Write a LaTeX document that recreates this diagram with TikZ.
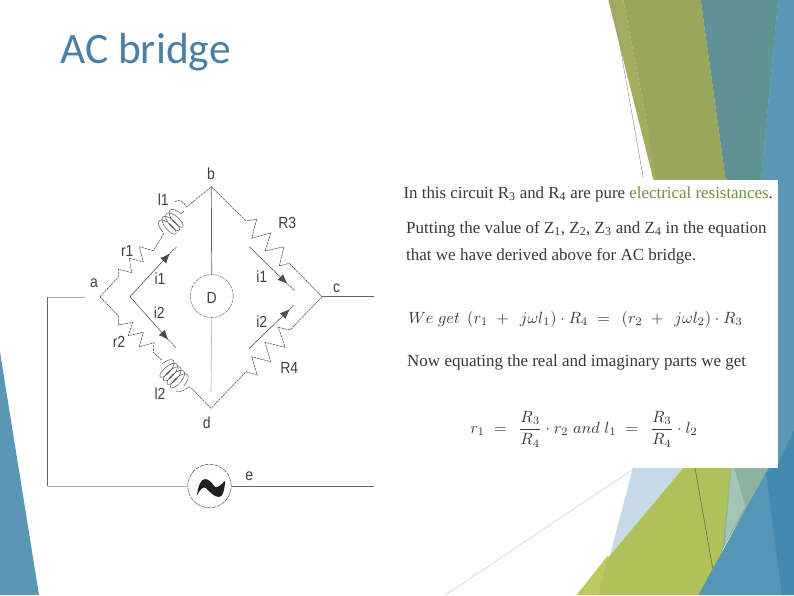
\documentclass[tikz,border=0pt]{standalone}
\usepackage{fontspec}
\setmainfont{Liberation Serif}
\newfontfamily\labelfont{Liberation Sans}
\newfontfamily\titlefont{Carlito}
\usetikzlibrary{arrows.meta,decorations.pathmorphing}
\definecolor{slideblue}{HTML}{5A96B6}
\definecolor{deepblue}{HTML}{438AB0}
\definecolor{midblue}{HTML}{5595B5}
\definecolor{paleblue}{HTML}{C5DBE8}
\definecolor{olive}{HTML}{9AA65B}
\definecolor{lightolive}{HTML}{A6AC5F}
\definecolor{teal1}{HTML}{5F9195}
\definecolor{teal2}{HTML}{5F9392}
\definecolor{leaf}{HTML}{B0C05A}
\definecolor{lightleaf}{HTML}{BDC860}
\definecolor{sage}{HTML}{8DB3A0}
\definecolor{palesage}{HTML}{A3C6B8}
\definecolor{titleblue}{HTML}{4A80A6}
\definecolor{bodygrey}{HTML}{383838}
\definecolor{linkgreen}{HTML}{6F8F3F}
\tikzset{
  wire/.style={line width=.55pt,black!70,dash pattern=on 2.5pt off .8pt},
  lead/.style={line width=.7pt,black!60},
  faint/.style={line width=.6pt,black!30},
  coilwire/.style={line width=.5pt,black!65,decorate,
    decoration={coil,aspect=.4,segment length=5pt,amplitude=10.5pt}},
  current/.style={line width=.55pt,black!70,-{Latex[length=10pt,width=8pt]}},
  lbl/.style={font=\labelfont\fontsize{14}{16}\selectfont,text=black!75,inner sep=0pt,yscale=1.15},
  meter/.style={circle,draw=black!60,line width=.5pt,dash pattern=on 3pt off 1pt,minimum size=43pt,inner sep=0pt},
  source/.style={circle,draw=black!60,line width=.6pt,dash pattern=on 4pt off 1pt,minimum size=43.5pt,inner sep=0pt},
  bodysmall/.style={anchor=base west,inner sep=0pt,text=bodygrey,font=\fontsize{16.9}{20}\selectfont},
  body/.style={anchor=base west,inner sep=0pt,text=bodygrey,font=\fontsize{17}{20}\selectfont},
  formula/.style={anchor=base west,inner sep=0pt,text=bodygrey,scale=1.63}
}
\begin{document}
\begin{tikzpicture}[x=1pt,y=-1pt]
  \useasboundingbox (0,0) rectangle (794,595);
  \fill[white] (0,0) rectangle (794,595);
  % slide background
  \fill[slideblue] (0,352) -- (39,595) -- (0,595) -- cycle;
  \fill[slideblue] (778,0) -- (794,0) -- (794,470) -- (740,470) -- (760,190) -- cycle;
  \fill[lightolive] (608.3,0) -- (623.3,0) -- (660,190) -- (656,190) -- cycle;
  \fill[olive] (623.3,0) -- (700.7,0) -- (727,190) -- (658,190) -- (647,123) -- cycle;
  \fill[teal1] (700.7,0) -- (778,0) -- (760,190) -- (727,190) -- cycle;
  \fill[teal2] (773,0) -- (778,0) -- (760,190) -- (730,190) -- cycle;
  \draw[line width=.5pt,black!40] (611.8,0) -- (643.3,178);
  \fill[paleblue] (635,460) -- (690,460) -- (610,555) -- cycle;
  \fill[leaf] (690,460) -- (732,460) -- (725,543.3) -- (715,570) -- (698.3,595) -- (576.7,595) -- cycle;
  \fill[lightleaf] (576.7,595) -- (608.3,555) -- (598.3,595) -- cycle;
  \fill[sage] (732,460) -- (775,460) -- (722,550) -- cycle;
  \fill[palesage] (732,460) -- (745,506) -- (725,543.3) -- cycle;
  \fill[midblue] (770,465) -- (698.3,595) -- (782,595) -- (778,465) -- cycle;
  \fill[deepblue] (794,430) -- (778,465) -- (766,473) -- (782,595) -- (794,595) -- cycle;
  \draw[line width=.4pt,black!25] (445,595) -- (635,468);
  \draw[line width=.4pt,black!45!olive] (695,468) -- (712.7,568.3);
  % text panel
  \fill[white] (400,180) rectangle (778,467.7);
  \node[anchor=base west,inner sep=0pt,text=titleblue,font=\titlefont\fontsize{43.5}{46}\selectfont] (title) at (60,63.5) {AC bridge};
  % bridge
  \coordinate (a) at (100,296.7);
  \coordinate (b) at (211.3,186.7);
  \coordinate (c) at (322,296.7);
  \coordinate (d) at (211,408.3);
  \coordinate (ai) at (130,296.7);
  \coordinate (cu) at (295,291);
  \coordinate (cl) at (293.3,305);
  \node[meter] (det) at (211.7,296) {};
  \node[lbl] (dlbl) at (211.7,298) {D};
  \node[source] (gen) at (209.5,486) {};
  \coordinate (lowl) at (47.7,486);
  \coordinate (upl) at (47.7,297);
  \coordinate (upr) at (85,297);
  \coordinate (outc) at (374,296.7);
  \coordinate (oute) at (374,486);
  \coordinate (dend) at (211,392);
  % left upper arm
  \draw[wire] (a) -- (118.3,277) -- (118.3,269.3) -- (131.7,272.7) -- (129.3,258.3) -- (143.3,261.7) -- (139.3,246.7) -- (153.3,250.7) -- (160,240) -- (164,232.7);
  \draw[coilwire] (162.7,232) -- (184,211);
  \draw[wire] (175,201.7) .. controls (180,198) and (184,203) .. (186.7,207) -- (b);
  % left lower arm
  \draw[wire] (a) -- (118.3,316) -- (118.3,325) -- (132.7,322.3) -- (128.3,335.7) -- (143.3,332.3) -- (139.3,346.7) -- (154,342.7) -- (153.3,352.3) -- (161.7,360);
  \draw[coilwire] (162,364) -- (184,386);
  \draw[wire] (176,391) .. controls (182,393) and (185,389) .. (190,386.7) -- (d);
  % right arms
  \draw[wire] (b) -- (246,221) -- (256.7,219.3) -- (251.7,238.3) -- (271,232.7) -- (265,251) -- (284,246.7) -- (279.3,266) -- (289.3,263.3) -- (c);
  \draw[wire] (c) -- (290,330) -- (278.3,327.3) -- (285,347.3) -- (265,342.3) -- (270.7,361.7) -- (251.7,356.7) -- (257.3,375) -- (246,371.7) -- (d);
  % inner current paths
  \draw[current] (ai) -- (170,253.3);
  \draw[wire] (170,253.3) -- (176.7,246.7);
  \draw[current] (ai) -- (168.5,340);
  \draw[wire] (168.5,340) -- (176,347.7);
  \draw[current] (249.3,246.7) -- (287.5,284);
  \draw[wire] (287.5,284) -- (cu);
  \draw[current] (249.3,348.3) -- (290,309);
  \draw[wire] (290,309) -- (cl);
  % detector and source leads
  \draw[lead] (b) -- (det.north);
  \draw[faint] (det.south) -- (dend);
  \draw[lead] (c) -- (outc);
  \draw[lead] (upl) -- (lowl);
  \draw[faint] (upl) -- (upr);
  \draw[faint] (lowl) -- (gen.west);
  \draw[lead] (gen.east) -- (oute);
  \fill[black!88] (197,495) .. controls (198,486) and (201,479) .. (205,479) .. controls (209,479) and (212,483) .. (215,487) .. controls (218,488) and (222,484) .. (225,480.7) .. controls (225,488) and (223,497) .. (219,497) .. controls (214,497) and (210,492) .. (206,488) .. controls (203,486) and (200,490) .. (197,495) -- cycle;
  % labels
  \node[lbl] (la) at (94,283) {a};
  \node[lbl] (lb) at (211,174) {b};
  \node[lbl] (lc) at (336.7,288) {c};
  \node[lbl] (ld) at (206.7,423) {d};
  \node[lbl] (le) at (249.3,476) {e};
  \node[lbl] (lrthree) at (287.3,222.7) {R3};
  \node[lbl] (lrfour) at (289.3,368.3) {R4};
  \node[lbl] (lione) at (261.7,276.7) {i1};
  \node[lbl] (litwo) at (261.7,321.7) {i2};
  \node[lbl] (liones) at (160,278.3) {i1};
  \node[lbl] (litwos) at (159.3,312.7) {i2};
  \node[lbl] (lrone) at (127.3,251) {r1};
  \node[lbl] (lrtwo) at (119,341.7) {r2};
  \node[lbl] (llone) at (163.3,200) {l1};
  \node[lbl] (lltwo) at (160,393.3) {l2};
  % panel text
  \node[bodysmall] (lineone) at (403.3,198) {In this circuit R\textsubscript{3} and R\textsubscript{4} are pure \textcolor{linkgreen}{electrical resistances}.};
  \node[body] (linetwo) at (406,233) {Putting the value of Z\textsubscript{1}, Z\textsubscript{2}, Z\textsubscript{3} and Z\textsubscript{4} in the equation};
  \node[body] (linethree) at (406,260.7) {that we have derived above for AC bridge.};
  \node[formula] (eqone) at (408,323) {$We\;get\;\,(r_1\;+\;\,j\omega l_1)\cdot R_4\;=\;\,(r_2\;+\;\,j\omega l_2)\cdot R_3$};
  \node[body] (linefour) at (407,366.7) {Now equating the real and imaginary parts we get};
  \node[formula] (eqtwo) at (470,433.5) {$\displaystyle r_1\;=\;\,\frac{R_3}{R_4}\cdot r_2\;and\;l_1\;=\;\,\frac{R_3}{R_4}\cdot l_2$};
\end{tikzpicture}
\end{document}
